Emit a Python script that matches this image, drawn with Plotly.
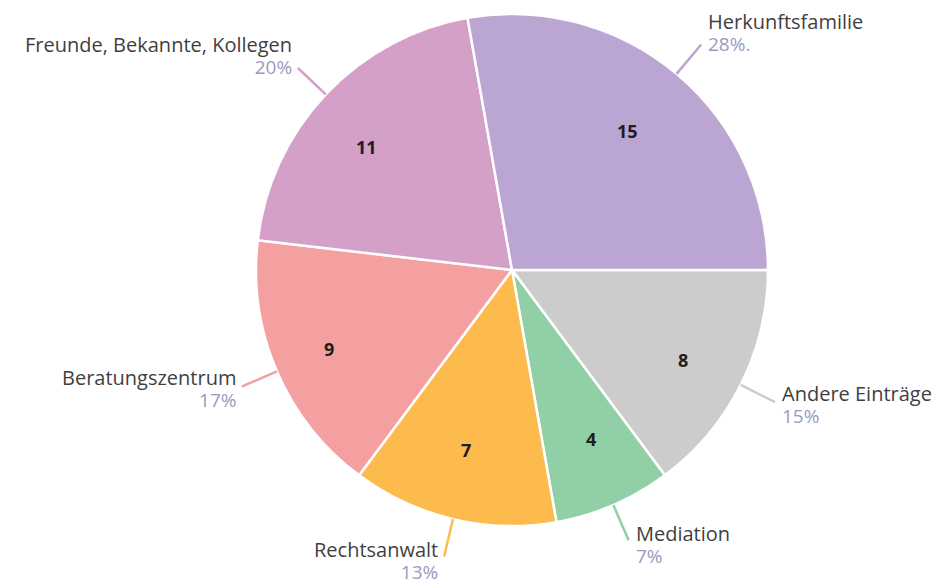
import math
import plotly.graph_objects as go

# Data (clockwise from 3 o'clock)
categories = ["Andere Einträge", "Mediation", "Rechtsanwalt", "Beratungszentrum",
              "Freunde, Bekannte, Kollegen", "Herkunftsfamilie"]
values = [8, 4, 7, 9, 11, 15]
pct_labels = ["15%", "7%", "13%", "17%", "20%", "28%."]
colors = ["#CCCCCC", "#91CFA6", "#FDBB4E", "#F4A0A1", "#D4A0C8", "#BBA5D2"]

W, H = 934, 584
CX, CY, R = 512, 270, 256  # pie centre / radius in px

text_color = "#3F3F3F"
pct_color = "#9A9AC0"
font_family = "Open Sans"

fig = go.Figure()
fig.add_trace(go.Pie(
    labels=categories,
    values=values,
    sort=False,
    direction="clockwise",
    rotation=90,
    textinfo="none",
    hoverinfo="label+value+percent",
    marker=dict(colors=colors, line=dict(color="white", width=2.5)),
    domain=dict(x=[(CX - R) / W, (CX + R) / W], y=[(H - CY - R) / H, (H - CY + R) / H]),
    showlegend=False,
))


def px2paper(x, y):
    return x / W, (H - y) / H


shapes = []
annotations = []
total = sum(values)
start = 0.0  # degrees, measured clockwise from 3 o'clock
for cat, v, pct, col in zip(categories, values, pct_labels, colors):
    span = 360.0 * v / total
    mid = start + span / 2
    start += span
    a = math.radians(mid)
    dx, dy = math.cos(a), math.sin(a)  # dy positive = downward on screen

    # value inside slice
    vx, vy = px2paper(CX + 0.78 * R * dx, CY + 0.78 * R * dy)
    annotations.append(dict(x=vx, y=vy, xref="paper", yref="paper", text=f"<b>{v}</b>",
                            showarrow=False, font=dict(size=18, color="#1E1E1E", family="Open Sans")))

    # leader line
    x0, y0 = CX + 1.0 * R * dx, CY + 1.0 * R * dy
    x1, y1 = CX + 1.15 * R * dx, CY + 1.15 * R * dy
    p0 = px2paper(x0, y0)
    p1 = px2paper(x1, y1)
    shapes.append(dict(type="line", xref="paper", yref="paper", x0=p0[0], y0=p0[1],
                       x1=p1[0], y1=p1[1], line=dict(color=col, width=2.5)))

    right = dx > 0
    xanchor = "left" if right else "right"
    xshift = 5 if right else -4
    upper = dy < -0.5
    # block centre: for upper labels the percent line sits at the line end
    cy_block = y1 - 12 if upper else y1 + 1 + 3 * dy
    bx, by = px2paper(x1, cy_block)
    txt = (f'<span style="font-size:20px">{cat}</span><br>'
           f'<span style="font-size:19px;color:{pct_color}">{pct}</span>')
    annotations.append(dict(x=bx, y=by, xref="paper", yref="paper", text=txt, showarrow=False,
                            xanchor=xanchor, yanchor="middle", align=xanchor, xshift=xshift,
                            font=dict(size=17, color=text_color, family=font_family)))

fig.update_layout(
    width=W, height=H,
    margin=dict(l=0, r=0, t=0, b=0),
    paper_bgcolor="white",
    plot_bgcolor="white",
    shapes=shapes,
    annotations=annotations,
)

fig.write_html("out.html", config={"displayModeBar": False},
               post_script="document.body.style.margin='0';document.body.style.overflow='hidden';")
